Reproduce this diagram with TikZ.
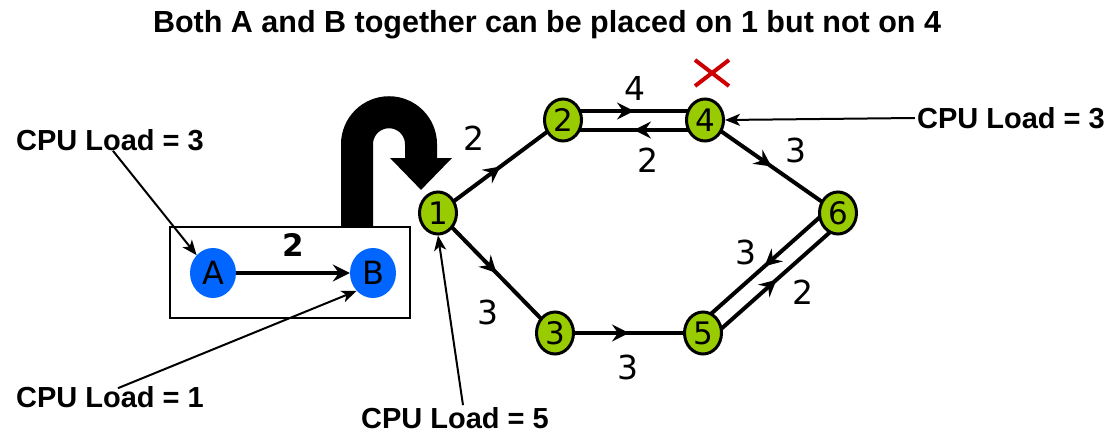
\documentclass[tikz,border=0pt]{standalone}
\usepackage{fontspec}
\setmainfont{Liberation Sans}
\newfontfamily\digitfont{DejaVu Sans}
\usepackage{xcolor}
\usetikzlibrary{shapes.geometric, shapes.misc, arrows.meta, positioning, calc, backgrounds, decorations.markings}

\definecolor{vmblue}{HTML}{0066FF}
\definecolor{hostgreen}{HTML}{99CC00}
\definecolor{badred}{HTML}{CC0000}

\tikzset{
  vm/.style={
    ellipse, fill=vmblue,
    minimum width=46pt, minimum height=50pt,
    inner sep=0pt,
    font=\digitfont\fontsize{32}{32}\selectfont
  },
  host/.style={
    ellipse, draw=black, line width=3pt,
    fill=hostgreen,
    minimum width=37pt, minimum height=42pt,
    inner sep=0pt,
    font=\digitfont\fontsize{31}{31}\selectfont
  },
  load/.style={
    inner sep=0pt,
    font=\bfseries\fontsize{29}{30}\selectfont
  },
  titletext/.style={
    inner sep=0pt,
    font=\bfseries\fontsize{30.5}{32}\selectfont
  },
  wt/.style={
    inner sep=0pt,
    font=\digitfont\fontsize{33}{33}\selectfont
  },
  link/.style={
    line width=4pt,
    postaction={decorate},
    decoration={markings,
      mark=at position 0.5 with {\arrow{Stealth[length=17pt, width=17pt, inset=6pt]}}}
  },
  vmlink/.style={
    -{Stealth[length=17pt, width=17pt, inset=6pt]},
    line width=4pt
  },
  pointer/.style={
    -{Stealth[length=15pt, width=12pt, inset=4pt]},
    line width=2pt
  },
  bigarrow/.style={
    -{Triangle[length=32pt, width=60pt]},
    line width=32pt
  }
}

\begin{document}
\begin{tikzpicture}[x=1pt, y=-1pt]
\useasboundingbox (0,0) rectangle (1117,436);

%------------------------------------------------------
% NODES
%------------------------------------------------------

% title
\node[titletext] (title) at (547,25) {Both A and B together can be placed on 1 but not on 4};

% the two VMs in their box
\node[draw, line width=1.5pt, minimum width=240pt, minimum height=91pt] (vmbox) at (290,272.5) {};
\node[vm] (vmA) at (213,273) {A};
\node[vm] (vmB) at (373,273) {B};

% hosts
\node[host] (h1) at (438,213) {1};
\node[host] (h2) at (563,120) {2};
\node[host] (h4) at (705,120) {4};
\node[host] (h6) at (838,213) {6};
\node[host] (h3) at (555,333) {3};
\node[host] (h5) at (703,333) {5};

% CPU loads
\node[load] (loadA) at (110,140) {CPU Load = 3};
\node[load] (loadB) at (110,397) {CPU Load = 1};
\node[load] (load1) at (455,418) {CPU Load = 5};
\node[load] (load4) at (1011,118) {CPU Load = 3};

% host 4 is ruled out
\node[cross out, draw=badred, line width=4pt, minimum width=30pt, minimum height=22pt, inner sep=0pt] (nogo) at (712,73) {};

\coordinate (drop) at ($(h1)+(-17,-23)$);

%------------------------------------------------------
% EDGES
%------------------------------------------------------

\draw[vmlink] (vmA) -- node[wt, font=\digitfont\bfseries\fontsize{31}{31}\selectfont, yshift=28pt]{2} (vmB);
\draw[bigarrow] ($(vmbox.north)+(67,0)$) -- ++(0,-82) arc[start angle=180, end angle=360, radius=32] -- (drop);

\begin{scope}[on background layer]
\draw[link] (h1.center) -- node[wt, xshift=-27pt, yshift=28pt]{2} (h2.center);
\draw[link] ([yshift=9pt]h2.center) -- node[wt, xshift=1pt, yshift=23pt]{4} ([yshift=9pt]h4.center);
\draw[link] ([yshift=-10pt]h4.center) -- node[wt, xshift=14pt, yshift=-30pt]{2} ([yshift=-10pt]h2.center);
\draw[link] (h4.center) -- node[wt, xshift=24pt, yshift=16pt]{3} (h6.center);
\draw[link] (h1.center) -- node[wt, xshift=-9pt, yshift=-39pt]{3} (h3.center);
\draw[link] (h3.center) -- node[wt, xshift=-1pt, yshift=-34pt]{3} (h5.center);
\draw[link] ([xshift=-6pt, yshift=6.7pt]h6.center) -- node[wt, xshift=-19pt, yshift=14pt]{3} ([xshift=-6pt, yshift=6.7pt]h5.center);
\draw[link] ([xshift=6pt, yshift=-6.7pt]h5.center) -- node[wt, xshift=26pt, yshift=-13pt]{2} ([xshift=6pt, yshift=-6.7pt]h6.center);
\end{scope}

\draw[pointer] ($(loadA.south)+(3,0)$) -- (vmA.north west);
\draw[pointer] ($(loadB.north)+(8,2)$) -- (vmB.south west);
\draw[pointer] ($(load1.north)+(8,-2)$) -- (h1.south);
\draw[pointer] ([xshift=-2pt]load4.west) -- (h4.east);

\end{tikzpicture}
\end{document}
